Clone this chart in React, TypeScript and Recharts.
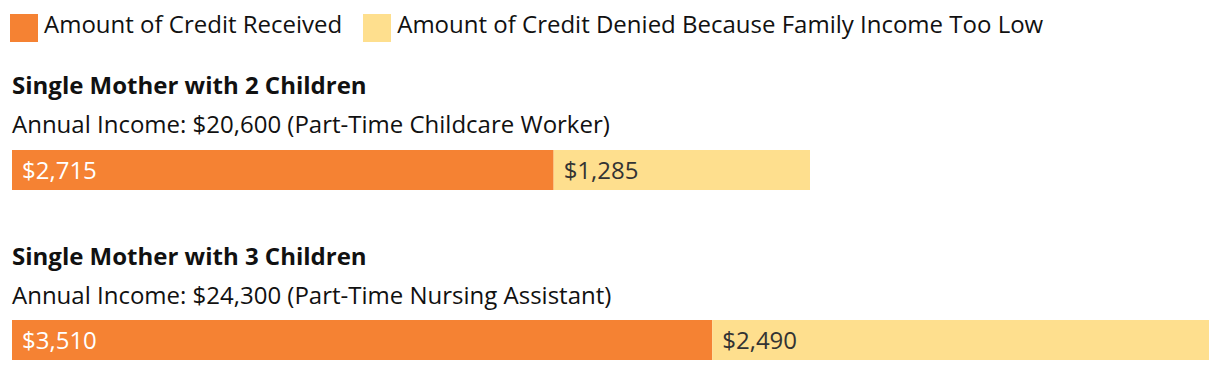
import React from "react";
import { BarChart, Bar, XAxis, YAxis, LabelList } from "recharts";

const seriesNames = ["Amount of Credit Received", "Amount of Credit Denied Because Family Income Too Low"];
const groupTitles = ["Single Mother with 2 Children", "Single Mother with 3 Children"];
const incomeLines = [
  "Annual Income: $20,600 (Part-Time Childcare Worker)",
  "Annual Income: $24,300 (Part-Time Nursing Assistant)",
];
const received = [2715, 3510];
const denied = [1285, 2490];
const maxValue = 6000;

const ORANGE = "#F58233";
const YELLOW = "#FEDF8E";
const FONT = "'Open Sans', sans-serif";
const FS = 24;

const money = (v: any) => `$${Number(v).toLocaleString("en-US")}`;

// place text so its baseline sits at y
function TextAt({ y, x = 12, bold, children }: { y: number; x?: number; bold?: boolean; children: React.ReactNode }) {
  return (
    <div
      style={{
        position: "absolute",
        left: x,
        top: y - 0.888 * FS,
        fontSize: FS,
        lineHeight: `${FS}px`,
        fontWeight: bold ? 700 : 400,
        color: "#111",
        whiteSpace: "nowrap",
      }}
    >
      {children}
    </div>
  );
}

function GroupBar({ index, top }: { index: number; top: number }) {
  const data = [{ name: groupTitles[index], received: received[index], denied: denied[index] }];
  return (
    <div style={{ position: "absolute", left: 0, top }}>
      <BarChart
        width={1220}
        height={40}
        data={data}
        layout="vertical"
        margin={{ top: 0, right: 11, bottom: 0, left: 12 }}
        barCategoryGap={0}
      >
        <XAxis type="number" domain={[0, maxValue]} hide />
        <YAxis type="category" dataKey="name" hide />
        <Bar dataKey="received" stackId="a" fill={ORANGE} isAnimationActive={false}>
          <LabelList
            dataKey="received"
            position="insideLeft"
            offset={10}
            formatter={money}
            style={{ fill: "#fff", fontSize: FS, fontFamily: FONT }}
          />
        </Bar>
        <Bar dataKey="denied" stackId="a" fill={YELLOW} isAnimationActive={false}>
          <LabelList
            dataKey="denied"
            position="insideLeft"
            offset={10}
            formatter={money}
            style={{ fill: "#333", fontSize: FS, fontFamily: FONT }}
          />
        </Bar>
      </BarChart>
    </div>
  );
}

export default function App() {
  return (
    <div
      style={{
        position: "absolute",
        left: 0,
        top: 0,
        width: 1220,
        height: 370,
        background: "#fff",
        fontFamily: FONT,
        overflow: "hidden",
      }}
    >
      <div style={{ position: "absolute", left: 10, top: 12, display: "flex", alignItems: "flex-start" }}>
        {seriesNames.map((s, i) => (
          <div key={s} style={{ display: "flex", alignItems: "flex-start", marginRight: 21 }}>
            <div style={{ width: 28, height: 28, marginTop: 2, background: i === 0 ? ORANGE : YELLOW, marginRight: 6 }} />
            <span style={{ fontSize: FS, lineHeight: `${FS}px`, color: "#111", whiteSpace: "nowrap" }}>{s}</span>
          </div>
        ))}
      </div>

      <TextAt y={94} bold>{groupTitles[0]}</TextAt>
      <TextAt y={133}>{incomeLines[0]}</TextAt>
      <GroupBar index={0} top={150} />

      <TextAt y={265} bold>{groupTitles[1]}</TextAt>
      <TextAt y={304}>{incomeLines[1]}</TextAt>
      <GroupBar index={1} top={320} />
    </div>
  );
}
